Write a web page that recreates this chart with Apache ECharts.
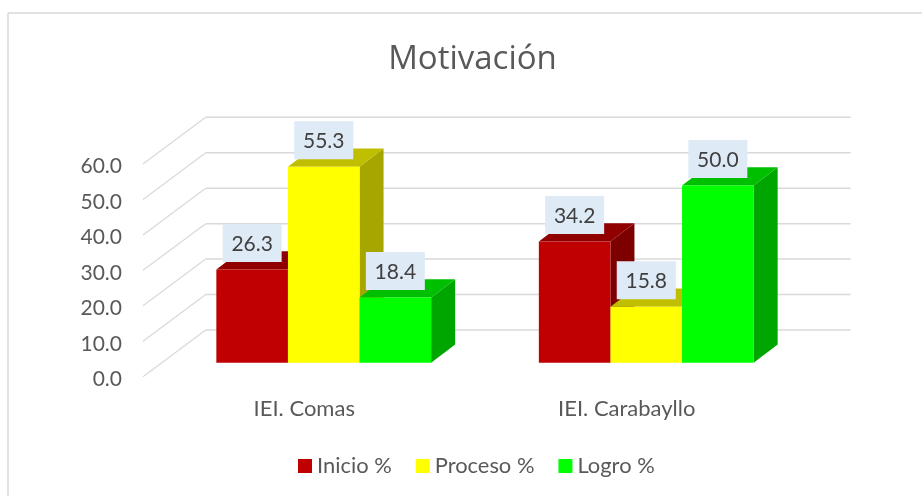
<!DOCTYPE html>
<html><head><meta charset="utf-8">
<style>html,body{margin:0;padding:0;background:#fff}#c{width:922px;height:496px}</style>
<script src="https://cdn.jsdelivr.net/npm/echarts@6/dist/echarts.min.js"></script>
</head><body><div id="c"></div>
<script>
const categories = ['IEI. Comas', 'IEI. Carabayllo'];
const inicio = [26.3, 34.2];
const proceso = [55.3, 15.8];
const logro = [18.4, 50.0];
const yTicks = [0, 10, 20, 30, 40, 50, 60];
const FONT = 'Lato, "Open Sans", sans-serif';
const chart = echarts.init(document.getElementById('c'), null, {renderer:'canvas'});
const WALL = [62.7, -46.7], BASE = [19.5, -14], DEPTH = [24, -18.2];
const BAR_FRAC = 71.6 / 322.5;
function wall(params, api) {
  const cs = params.coordSys;
  const y = api.coord([0, api.value(1)])[1];
  const ln = (a, b, w) => ({type:'line', shape:{x1:a[0],y1:a[1],x2:b[0],y2:b[1]}, style:{stroke:'#D9D9D9', lineWidth:w}});
  const f = [cs.x, y], b = [cs.x + WALL[0], y + WALL[1]], e = [cs.x + cs.width + WALL[0], y + WALL[1]];
  return {type:'group', children:[ln(f, b, 1.2), ln(b, e, 1.5)]};
}
function bar(offset, front, top, side) {
  return function (params, api) {
    const v = api.value(1);
    const band = api.size([1, 0])[0], w = band * BAR_FRAC;
    const p0 = api.coord([api.value(0), 0]), p1 = api.coord([api.value(0), v]);
    const xl = p0[0] + BASE[0] + (offset - 0.5) * w, xr = xl + w;
    const yb = p0[1] + BASE[1], yt = p1[1] + BASE[1];
    const dx = DEPTH[0], dy = DEPTH[1];
    const poly = (pts, c) => ({type:'polygon', shape:{points:pts}, style:{fill:c}});
    return {type:'group', children:[
      poly([[xr,yb],[xr+dx,yb+dy],[xr+dx,yt+dy],[xr,yt]], side),
      poly([[xl,yt],[xr,yt],[xr+dx,yt+dy],[xl+dx,yt+dy]], top),
      poly([[xl,yb],[xr,yb],[xr,yt],[xl,yt]], front),
      {type:'rect', z2:20, shape:{x:(xl+xr)/2-29.5, y:yt-45.5, width:59, height:38}, style:{fill:'#DEEAF6'}},
      {type:'text', z2:21, style:{text:v.toFixed(1), x:(xl+xr)/2, y:yt-25, align:'center', verticalAlign:'middle', fill:'#404040', font:'21px '+FONT}}
    ]};
  };
}
function mk(name, arr, offset, front, top, side) {
  return {name, type:'custom', coordinateSystem:'cartesian2d', clip:false, z:3, itemStyle:{color:front},
    encode:{x:0,y:1}, data: arr.map((v,i)=>[i,v]), renderItem: bar(offset, front, top, side)};
}
chart.setOption({
  animation:false,
  backgroundColor:'#fff',
  title:{text:'Motivación', left:467.5, top:38, textAlign:'center', textStyle:{fontFamily:'"Open Sans", sans-serif', fontSize:33, fontWeight:'normal', color:'#595959'}},
  legend:{left:293, top:450, itemWidth:14, itemHeight:14, itemGap:24, icon:'rect',
    data:['Inicio %','Proceso %','Logro %'],
    textStyle:{fontFamily:FONT, fontSize:21.9, color:'#595959'}},
  grid:{left:143, right:134, top:164, bottom:119.3},
  xAxis:{type:'category', data:categories, axisLine:{show:false}, axisTick:{show:false}, splitLine:{show:false},
    axisLabel:{margin:21, fontFamily:FONT, fontSize:22, color:'#595959'}},
  yAxis:{type:'value', min:0, max:60, interval:10, axisLine:{show:false}, axisTick:{show:false}, splitLine:{show:false},
    axisLabel:{margin:21, verticalAlign:'top', lineHeight:5, fontFamily:FONT, fontSize:21, color:'#595959', formatter:v=>v.toFixed(1)}},
  graphic:[
    {type:'line', silent:true, shape:{x1:8,y1:13,x2:922,y2:13}, style:{stroke:'#D9D9D9', lineWidth:1.5}},
    {type:'line', silent:true, shape:{x1:8,y1:13,x2:8,y2:496}, style:{stroke:'#D9D9D9', lineWidth:1.5}}
  ],
  series:[
    {type:'custom', coordinateSystem:'cartesian2d', clip:false, z:1, silent:true, encode:{x:0,y:1}, data:yTicks.map(v=>[0,v]), renderItem:wall},
    mk('Inicio %', inicio, -1, '#C00000', '#900000', '#7D0000'),
    mk('Proceso %', proceso, 0, '#FFFF00', '#BFBF00', '#A6A600'),
    mk('Logro %', logro, 1, '#00FF00', '#00BF00', '#00A600')
  ]
});
</script></body></html>
